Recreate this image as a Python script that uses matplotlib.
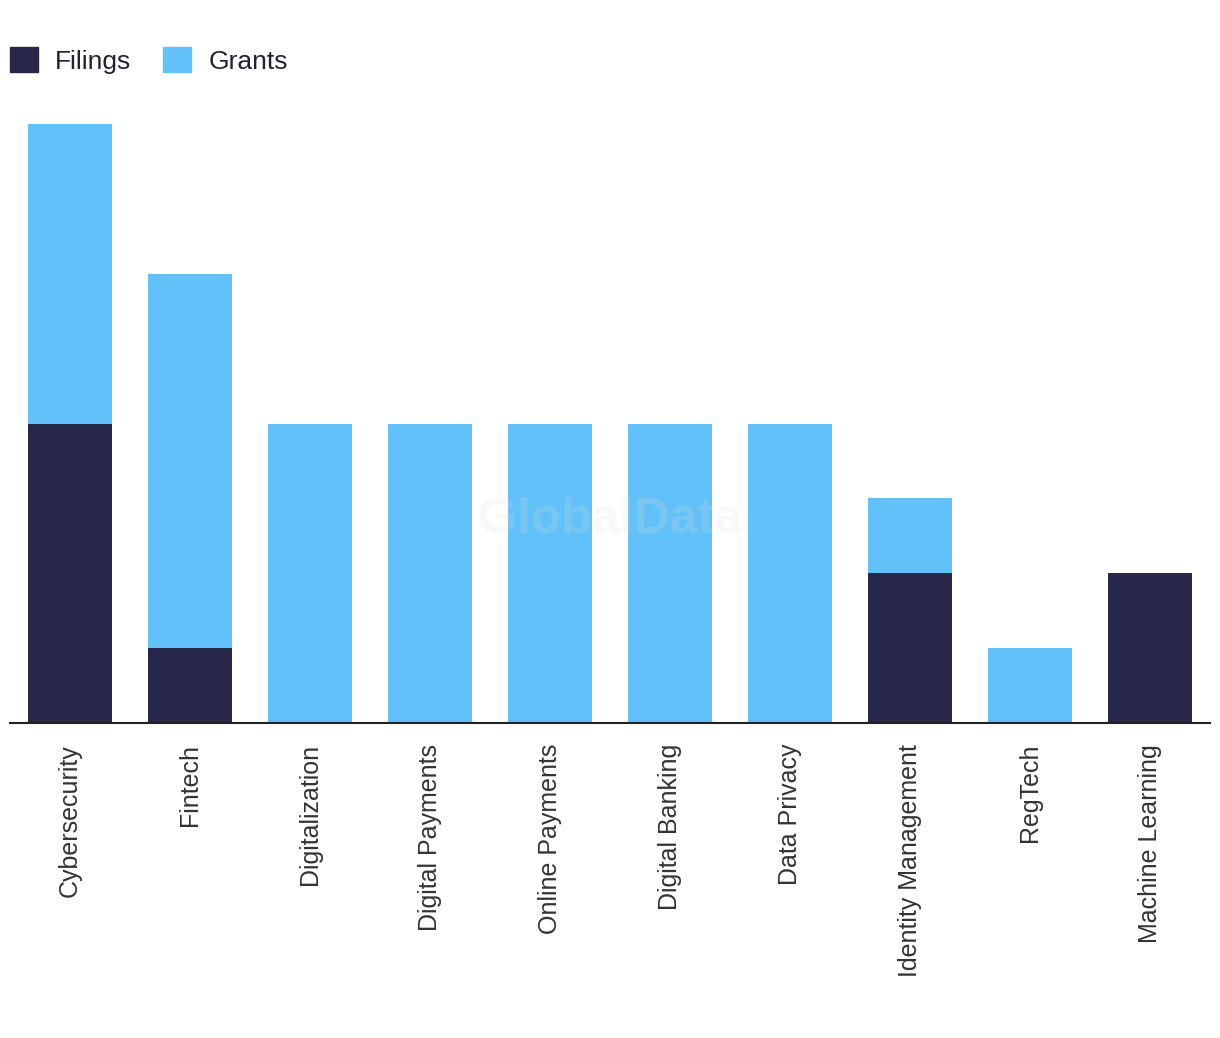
import numpy as np
import matplotlib
matplotlib.use('Agg')
import matplotlib.pyplot as plt
from matplotlib.patches import Patch

categories = ['Cybersecurity', 'Fintech', 'Digitalization', 'Digital Payments',
              'Online Payments', 'Digital Banking', 'Data Privacy',
              'Identity Management', 'RegTech', 'Machine Learning']
filings = [4, 1, 0, 0, 0, 0, 0, 2, 0, 2]
grants = [4, 5, 4, 4, 4, 4, 4, 1, 1, 0]

col_filings = '#272849'
col_grants = '#62c1f9'

plt.rcParams['font.family'] = ['Liberation Sans', 'DejaVu Sans']

fig = plt.figure(figsize=(12.2, 10.38), dpi=100)
ax = fig.add_axes([10/1220, (1038-723)/1038, 1200/1220, 599/1038])

x = np.arange(len(categories))
ax.bar(x, filings, width=0.7, color=col_filings)
ax.bar(x, grants, width=0.7, bottom=filings, color=col_grants)

ax.set_xlim(-0.5, len(categories)-0.5)
ax.set_ylim(0, 8)
ax.set_yticks([])
for s in ['top', 'right', 'left']:
    ax.spines[s].set_visible(False)
ax.spines['bottom'].set_color('#222222')
ax.spines['bottom'].set_linewidth(1.5)
ax.set_xticks(x)
ax.set_xticklabels(categories, rotation=90, fontsize=18, color='#333333')
ax.tick_params(axis='x', length=0, pad=15)

#ウォーターマーク
fig.text(610/1220, 1-520/1038, 'GlobalData', ha='center', va='center',
         fontsize=36, fontweight='bold', color='#dddddd', alpha=0.2)

handles = [Patch(color=col_filings, label='Filings'), Patch(color=col_grants, label='Grants')]
fig.legend(handles=handles, loc='upper left', bbox_to_anchor=(10/1220, 1-47/1038), ncol=2,
           frameon=False, fontsize=19, handlelength=1.06, handleheight=1.1,
           handletextpad=0.65, columnspacing=1.2, borderpad=0, borderaxespad=0,
           labelcolor='#222233')

fig.savefig('out.png', dpi=100)
